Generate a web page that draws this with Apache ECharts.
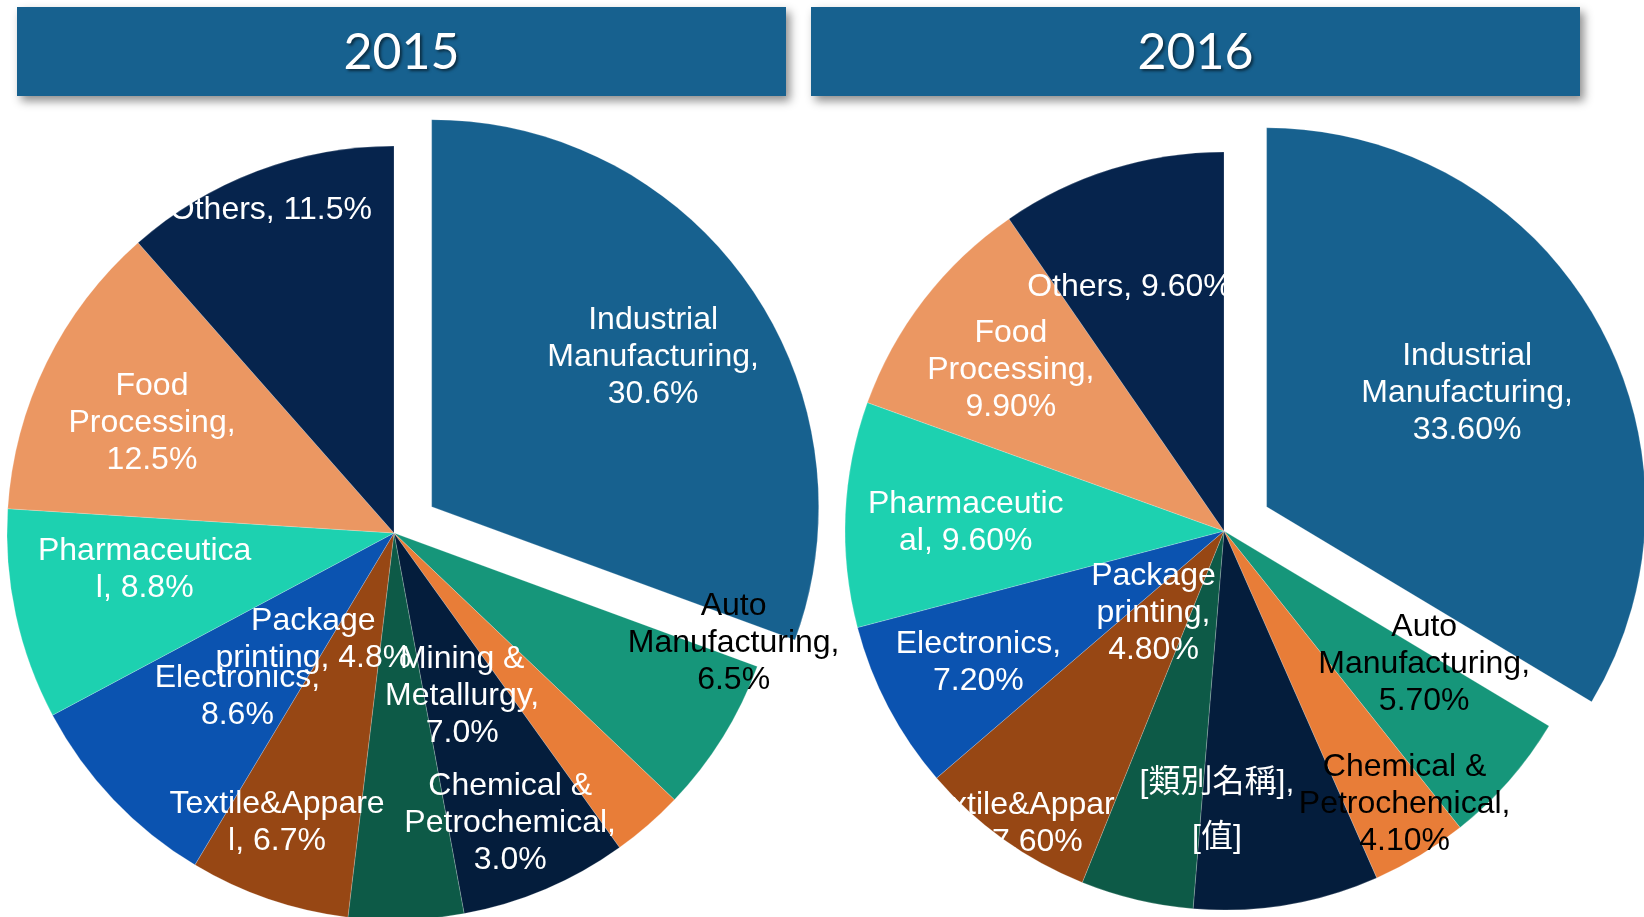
<!DOCTYPE html>
<html>
<head>
<meta charset="utf-8">
<script src="https://cdn.jsdelivr.net/npm/echarts@6/dist/echarts.min.js"></script>
<style>
html,body{margin:0;padding:0;background:#ffffff;}
#chart{width:1644px;height:917px;}
</style>
</head>
<body>
<div id="chart"></div>
<script>
// ---------- data ----------
const years = ['2015', '2016'];
const categories = [
  'Industrial Manufacturing', 'Auto Manufacturing', 'Chemical & Petrochemical',
  'Mining & Metallurgy', 'Package printing', 'Textile&Apparel', 'Electronics',
  'Pharmaceutical', 'Food Processing', 'Others'
];
const values2015 = [30.6, 6.5, 3.0, 7.0, 4.8, 6.7, 8.6, 8.8, 12.5, 11.5];
const values2016 = [33.6, 5.7, 4.1, 7.9, 4.8, 7.6, 7.2, 9.6, 9.9, 9.6];
const labels2015 = [
  'Industrial\nManufacturing,\n30.6%',
  'Auto\nManufacturing,\n6.5%',
  'Chemical &\nPetrochemical,\n3.0%',
  'Mining &\nMetallurgy,\n7.0%',
  'Package\nprinting, 4.8%',
  'Textile&Appare\nl, 6.7%',
  'Electronics,\n8.6%',
  'Pharmaceutica\nl, 8.8%',
  'Food\nProcessing,\n12.5%',
  'Others, 11.5%'
];
const labels2016 = [
  'Industrial\nManufacturing,\n33.60%',
  'Auto\nManufacturing,\n5.70%',
  'Chemical &\nPetrochemical,\n4.10%',
  '[類別名稱],\n[值]',
  'Package\nprinting,\n4.80%',
  'Textile&Appar\nel, 7.60%',
  'Electronics,\n7.20%',
  'Pharmaceutic\nal, 9.60%',
  'Food\nProcessing,\n9.90%',
  'Others, 9.60%'
];

// ---------- styles ----------
const sliceColors = ['#17618f', '#16967a', '#e87d38', '#041d3c', '#0d5a47',
                     '#974714', '#0b53b0', '#1dd1b0', '#eb9762', '#06244d'];
const labelColors2015 = ['#fff', '#000', '#fff', '#fff', '#fff', '#fff', '#fff', '#fff', '#fff', '#fff'];
const labelColors2016 = ['#fff', '#000', '#000', '#fff', '#fff', '#fff', '#fff', '#fff', '#fff', '#fff'];
// label placement: fraction of radius, angular shift (deg) from slice mid-angle
const labelFrac2015  = [0.69, 0.92, 0.80, 0.45, 0.34, 0.80, 0.58, 0.65, 0.69, 0.90];
const labelShift2015 = [0, -14.4, 19, 0, 39.6, 3.3, -2.2, 4.6, -1.1, 0];
const labelFrac2016  = [0.60, 0.63, 0.858, 0.73, 0.279, 0.942, 0.732, 0.682, 0.71, 0.697];
const labelShift2016 = [0, -8.2, -2.6, 11, 28.5, 0, 0, 0, 0, -3.7];
const LABEL_DY = 3;
const LINE_H = 37;

const pie1 = {cx: 394, cy: 533, r: 387, offset: 46};
const pie2 = {cx: 1224, cy: 531, r: 379, offset: 49};
const FONT = "'Liberation Sans', Arial, 'Noto Sans CJK TC', sans-serif";

function midAngles(values) {
  const total = values.reduce((a, b) => a + b, 0);
  let acc = 0;
  return values.map(v => { const m = (acc + v / 2) / total * 2 * Math.PI; acc += v; return m; });
}

function makeLabelLayout(values, geo, frac, shift) {
  const mids = midAngles(values);
  return function (params) {
    const i = params.dataIndex;
    if (i === 0) return {}; // exploded (selected) slice: positioned via padding / blank lines
    const a = mids[i] + shift[i] * Math.PI / 180;
    return {
      x: geo.cx + frac[i] * geo.r * Math.sin(a),
      y: geo.cy - frac[i] * geo.r * Math.cos(a) + LABEL_DY,
      align: 'center',
      verticalAlign: 'middle'
    };
  };
}

function buildData(values, labels, labelColors, geo, frac) {
  const mids = midAngles(values);
  return values.map((v, i) => {
    const label = {
      formatter: labels[i],
      color: labelColors[i],
      lineHeight: labels[i].indexOf('[') === 0 ? 55 : LINE_H
    };
    if (i === 0) {
      // default inside label sits at r/2 of the exploded slice; shift it radially
      const ext = (frac[i] - 0.5) * geo.r;
      const sx = ext * Math.sin(mids[i]);
      const sy = -ext * Math.cos(mids[i]) + LABEL_DY;
      label.padding = [0, Math.max(0, -2 * sx), 0, Math.max(0, 2 * sx)];
      const blank = Math.round(Math.abs(2 * sy) / LINE_H);
      const pad = '\n'.repeat(blank);
      label.formatter = sy < 0 ? labels[i] + pad : pad + labels[i];
    }
    return {
      name: categories[i],
      value: v,
      selected: i === 0,
      itemStyle: {color: sliceColors[i]},
      label: label
    };
  });
}

function makeSeries(values, labels, labelColors, geo, frac, shift) {
  return {
    type: 'pie',
    center: [geo.cx, geo.cy],
    radius: [0, geo.r],
    startAngle: 90,
    clockwise: true,
    selectedMode: 'single',
    selectedOffset: geo.offset,
    avoidLabelOverlap: false,
    animation: false,
    silent: true,
    emphasis: {disabled: true},
    select: {itemStyle: {borderWidth: 0.4, borderColor: 'rgba(255,255,255,0.5)'}},
    itemStyle: {borderWidth: 0.4, borderColor: 'rgba(255,255,255,0.5)'},
    label: {
      show: true,
      position: 'inside',
      fontFamily: FONT,
      fontSize: 32,
      fontWeight: 'normal',
      lineHeight: LINE_H,
      textBorderWidth: 0,
      textShadowBlur: 0,
      align: 'center'
    },
    labelLine: {show: false},
    labelLayout: makeLabelLayout(values, geo, frac, shift),
    data: buildData(values, labels, labelColors, geo, frac)
  };
}

function banner(x, text) {
  return {
    type: 'group',
    children: [
      {
        type: 'rect',
        shape: {x: x, y: 7, width: 769, height: 89},
        style: {
          fill: '#17618f',
          shadowBlur: 9,
          shadowOffsetX: 4,
          shadowOffsetY: 5,
          shadowColor: 'rgba(0,0,0,0.45)'
        }
      },
      {
        type: 'text',
        x: x + 384.5,
        y: 53,
        style: {
          text: text,
          fill: '#ffffff',
          font: "normal 50px Lato, 'Open Sans', sans-serif",
          align: 'center',
          verticalAlign: 'middle',
          textShadowColor: 'rgba(0,0,0,0.55)',
          textShadowBlur: 3,
          textShadowOffsetX: 2,
          textShadowOffsetY: 2
        }
      }
    ]
  };
}

const chart = echarts.init(document.getElementById('chart'), null, {renderer: 'canvas'});
chart.setOption({
  animation: false,
  backgroundColor: '#ffffff',
  graphic: [banner(17, years[0]), banner(811, years[1])],
  series: [
    makeSeries(values2015, labels2015, labelColors2015, pie1, labelFrac2015, labelShift2015),
    makeSeries(values2016, labels2016, labelColors2016, pie2, labelFrac2016, labelShift2016)
  ]
});
</script>
</body>
</html>
